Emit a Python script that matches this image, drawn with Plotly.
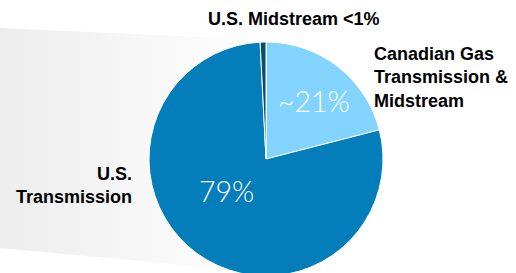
import plotly.graph_objects as go

W, H = 516, 278

labels = ["Canadian Gas Transmission & Midstream", "U.S. Transmission", "U.S. Midstream"]
values = [21.0, 78.2, 0.8]
colors = ["#83D3FF", "#047DBB", "#0D4B6F"]

label_texts = ["Canadian Gas<br>Transmission &<br>Midstream", "U.S.<br>Transmission", "U.S. Midstream <1%"]
pct_texts = ["~21%", "79%"]

fig = go.Figure()

# background gradient band (pixel coordinates, y from top)
bx = [0, 270, 270, 0, 0]
by = [28, 40, 273, 248, 28]
fig.add_trace(go.Scatter(
    x=bx, y=by, mode="lines", fill="toself", line=dict(width=0),
    fillgradient=dict(type="horizontal", start=0, stop=265,
                      colorscale=[[0, "#ededed"], [1, "#ffffff"]]),
    hoverinfo="skip", showlegend=False,
))

cx, cy, r = 266, 159, 117
fig.add_trace(go.Pie(
    labels=labels, values=values, sort=False, direction="clockwise", rotation=0,
    marker=dict(colors=colors, line=dict(color="white", width=1)),
    textinfo="none", hoverinfo="skip", showlegend=False,
    domain=dict(x=[(cx - r) / W, (cx + r) / W], y=[(H - cy - r) / H, (H - cy + r) / H]),
))

bold = dict(family="Liberation Sans, Arial, sans-serif", size=18, color="#000000", weight="bold")
light = dict(family="Lato, Open Sans, sans-serif", size=28.5, color="white", weight=300)

ann = [
    dict(x=293.5, y=18.5, text=label_texts[2], xanchor="center", yanchor="middle", font=bold, align="center"),
    dict(x=372, y=77.5, text=label_texts[0], xanchor="left", yanchor="middle", font=bold, align="left"),
    dict(x=134, y=185.5, text=label_texts[1], xanchor="right", yanchor="middle", font=bold, align="right"),
    dict(x=313.5, y=101, text=pct_texts[0], xanchor="center", yanchor="middle", font=light),
    dict(x=226, y=191, text=pct_texts[1], xanchor="center", yanchor="middle", font=light),
]
for a in ann:
    a.update(xref="x", yref="y", showarrow=False)

fig.update_layout(
    width=W, height=H, margin=dict(l=0, r=0, t=0, b=0),
    paper_bgcolor="white", plot_bgcolor="white",
    xaxis=dict(range=[0, W], visible=False, fixedrange=True),
    yaxis=dict(range=[H, 0], visible=False, fixedrange=True),
    annotations=ann,
)

fig.write_html("out.html", config={"displayModeBar": False},
               post_script="document.body.style.margin='0';document.body.style.overflow='hidden';")
